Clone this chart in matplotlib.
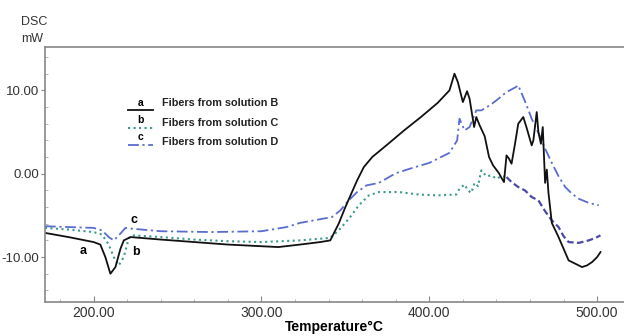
import matplotlib
matplotlib.use("Agg")
from matplotlib import pyplot as plt
from matplotlib.ticker import MultipleLocator, FormatStrFormatter
import numpy as np

plt.rcParams['font.family'] = ['Liberation Sans', 'DejaVu Sans']

# curve a: fibers from solution B
temp_a = [171, 185, 200, 204, 207, 210, 213, 216, 218, 222, 240, 260, 280, 300, 310, 323,
          335, 341, 346, 350, 357, 361, 366, 375, 385, 395, 405, 412, 415, 417, 420, 422.5,
          424, 426.7, 428, 430, 433, 435.6, 438, 441.5, 443, 444.5, 446, 447.5, 449, 451,
          453, 456, 458, 461, 462, 464, 465, 466.5, 467.6, 469, 470, 471, 473, 477, 480,
          483, 487, 491, 494, 497, 500, 502]
dsc_a = [-7.1, -7.6, -8.2, -8.5, -10.0, -12.0, -11.2, -9.0, -8.0, -7.6, -7.9, -8.2, -8.5,
         -8.7, -8.8, -8.5, -8.2, -8.0, -6.0, -4.0, -0.8, 0.8, 2.0, 3.5, 5.2, 6.8, 8.5, 10.0,
         12.0, 11.0, 8.6, 9.9, 9.0, 5.6, 6.8, 5.8, 4.5, 2.0, 1.0, 0.06, -0.5, -1.0, 2.2, 1.8,
         1.2, 3.5, 6.0, 6.8, 5.5, 3.4, 4.0, 7.4, 5.0, 3.6, 5.6, -1.1, 0.5, -2.3, -5.9, -7.6,
         -9.0, -10.4, -10.8, -11.2, -11.0, -10.6, -10.0, -9.4]

# curve b: fibers from solution C
temp_b = [171, 185, 200, 205, 209, 212, 215, 218, 221, 224, 240, 260, 280, 300, 323, 341,
          346, 352.5, 358, 364, 370, 382, 394, 405, 416, 418, 421, 423, 425, 427, 429, 431,
          434, 437, 440, 443, 446, 449, 453, 457, 461, 465, 469, 473, 477, 480, 483, 489,
          495, 499, 502]
dsc_b = [-6.5, -6.7, -7.0, -7.3, -8.5, -10.0, -11.0, -10.0, -7.7, -7.4, -7.6, -7.9, -8.1,
         -8.2, -8.0, -7.7, -6.8, -5.3, -3.8, -2.6, -2.2, -2.2, -2.5, -2.6, -2.5, -1.8, -1.3,
         -2.0, -2.3, -1.1, -1.5, 0.4, -0.3, -0.2, -0.6, -0.3, -0.4, -1.0, -1.6, -2.0, -2.8,
         -3.2, -4.5, -5.6, -6.4, -7.5, -8.2, -8.3, -8.0, -7.7, -7.4]

# curve c: fibers from solution D
temp_c = [171, 185, 200, 205, 209, 212, 215, 219, 223, 240, 270, 300, 315, 323, 342, 347,
          352, 357, 362.6, 370, 380, 390, 400, 412, 416.6, 418, 421, 424, 428, 431, 436,
          440, 446, 451.6, 453, 457.6, 461, 465, 469, 473, 477, 481, 485, 489, 495, 501]
dsc_c = [-6.3, -6.4, -6.5, -6.8, -7.6, -8.0, -7.4, -6.5, -6.6, -6.9, -7.0, -6.9, -6.4,
         -5.9, -5.2, -4.4, -3.2, -2.2, -1.4, -1.1, 0.06, 0.7, 1.3, 2.5, 4.0, 6.6, 5.2, 5.6,
         7.6, 7.6, 8.2, 8.8, 9.8, 10.4, 10.6, 8.4, 6.6, 4.9, 3.0, 1.3, -0.3, -1.6, -2.4,
         -3.0, -3.5, -3.8]

legend_letters = ['a', 'b', 'c']
legend_labels = ['Fibers from solution B', 'Fibers from solution C', 'Fibers from solution D']

black = '#111111'
teal = '#3f9a8e'
purple = '#4a4aa6'
blue = '#5a6cd0'
dashdot = (0, (6, 2, 1.2, 2))

fig = plt.figure(figsize=(6.24, 3.36), dpi=100)
ax = fig.add_axes([0.072, 0.101, 0.928, 0.759])

ax.plot(temp_c, dsc_c, color=blue, lw=1.3, linestyle=dashdot)
tb = np.array(temp_b)
db = np.array(dsc_b)
early = tb <= 446
ax.plot(tb[early], db[early], color=teal, lw=1.5, linestyle=':')
ax.plot(tb[tb >= 446], db[tb >= 446], color=purple, lw=1.6, linestyle=(0, (3, 1.5)))
ax.plot(temp_a, dsc_a, color=black, lw=1.3)

ax.set_xlim(171, 516)
ax.set_ylim(-15.4, 15.2)
ax.xaxis.set_major_locator(MultipleLocator(100))
ax.xaxis.set_minor_locator(MultipleLocator(20))
ax.yaxis.set_major_locator(MultipleLocator(10))
ax.yaxis.set_minor_locator(MultipleLocator(2))
ax.xaxis.set_major_formatter(FormatStrFormatter('%.2f'))
ax.yaxis.set_major_formatter(FormatStrFormatter('%.2f'))
ax.tick_params(axis='x', which='major', direction='in', length=4, color='#888888',
               labelsize=10, labelcolor='#333333', pad=3)
ax.tick_params(axis='x', which='minor', direction='in', length=2, color='#aaaaaa')
ax.tick_params(axis='y', which='major', direction='out', length=3, color='#888888',
               labelsize=9.5, labelcolor='#333333', pad=1)
ax.tick_params(axis='y', which='minor', direction='in', length=2, color='#aaaaaa')

for side in ['left', 'bottom', 'top']:
    ax.spines[side].set_color('#888888')
    ax.spines[side].set_linewidth(1.2)
ax.spines['right'].set_visible(False)

ax.set_xlabel('Temperature\u00b0C', fontsize=10, fontweight='bold', labelpad=0)
fig.text(0.055, 0.935, 'DSC', fontsize=9, color='#333333', ha='center', va='center')
fig.text(0.052, 0.885, 'mW', fontsize=9, color='#333333', ha='center', va='center')

# curve letters
ax.text(194, -9.3, 'a', fontsize=9, fontweight='bold', ha='center', va='center')
ax.text(225, -9.4, 'b', fontsize=9, fontweight='bold', ha='center', va='center')
ax.text(224, -5.6, 'c', fontsize=9, fontweight='bold', ha='center', va='center')

# legend block
styles = [dict(color=black, lw=1.3), dict(color=teal, lw=1.5, linestyle=':'),
          dict(color=blue, lw=1.3, linestyle=dashdot)]
rows_line = [0.753, 0.682, 0.616]
rows_text = [0.780, 0.702, 0.627]
rows_letter = [0.780, 0.714, 0.647]
for i in range(3):
    ax.plot([0.143, 0.187], [rows_line[i]] * 2, transform=ax.transAxes, **styles[i])
    ax.text(0.165, rows_letter[i], legend_letters[i], transform=ax.transAxes, fontsize=7.5,
            fontweight='bold', ha='center', va='center')
    ax.text(0.203, rows_text[i], legend_labels[i], transform=ax.transAxes, fontsize=7.8,
            fontweight='bold', ha='left', va='center', color='#222222')

fig.savefig('out.png', dpi=100)
